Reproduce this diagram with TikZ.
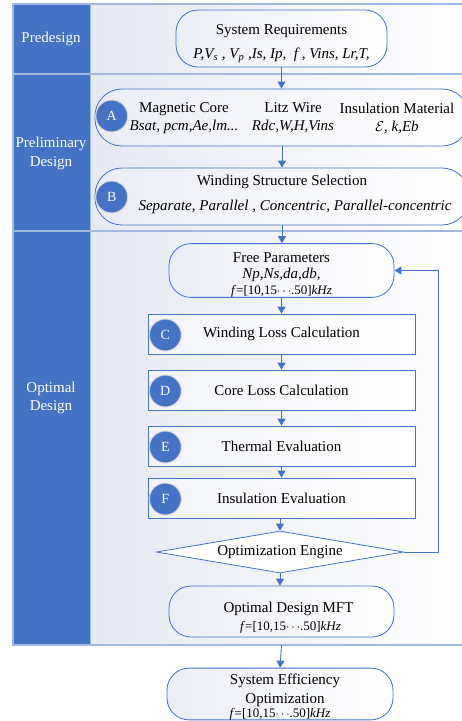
\documentclass[tikz,border=0pt]{standalone}
\usepackage{fontspec}
\setmainfont{Liberation Serif}
\usetikzlibrary{shapes.geometric,arrows.meta}

\definecolor{ppblue}{HTML}{4472C4}
\definecolor{ppline}{HTML}{A3B8E0}
\definecolor{ppback}{HTML}{E6E9F3}

\newcommand{\freqrange}{{\fontsize{13}{15}\selectfont\textit{f}=[10,15$\cdots$.50]\textit{kHz}}}

\tikzset{
  stadium/.style={draw=ppblue, line width=0.8pt, rounded corners=22pt, left color=ppback!80, right color=white,
    align=center, inner sep=0pt, font=\fontsize{15}{17}\selectfont},
  stepbox/.style={draw=ppblue, line width=0.8pt, left color=ppback!50, right color=white,
    minimum width=267pt, minimum height=40pt, font=\fontsize{15}{17}\selectfont},
  badge/.style={circle, fill=ppblue, draw=gray!30, line width=1pt, minimum size=32pt, inner sep=0pt,
    text=white, font=\fontsize{14}{16}\selectfont},
  engine/.style={diamond, draw=ppblue, line width=0.8pt, fill=white, aspect=6, inner sep=0pt,
    minimum width=247pt, minimum height=42pt, font=\fontsize{15}{17}\selectfont},
  textonly/.style={align=center, inner sep=0pt, font=\fontsize{15}{18}\selectfont},
  lane/.style={text=white, align=center, font=\fontsize{15}{18.5}\selectfont},
  flow/.style={ppblue, line width=0.9pt, -{Triangle[length=7pt,width=8pt]}}
}

\begin{document}
\begin{tikzpicture}[x=1pt,y=-1pt]

\useasboundingbox (0,0) rectangle (462,721);
\clip (0,0) rectangle (462,721);

% swim lanes
\fill [left color=ppback, right color=white] (90.7,4) rectangle (475,645);
\fill [ppblue] (13,4) rectangle (90.7,645);
\draw [ppline, line width=1.5pt] (13,4) rectangle (475,645);
\draw [ppline, line width=1.5pt] (13,74) -- (475,74);
\draw [ppline, line width=1.5pt] (13,231) -- (475,231);
\draw [ppline, line width=1.5pt] (90.7,4) -- (90.7,645);

\coordinate (framebot) at (0,645);
\coordinate (loop) at (438,552);

\node [lane] (pre) at (51,39) {Predesign};
\node [lane] (prelim) at (51,153.5) {Preliminary\\Design};
\node [lane] (opt) at (51,398) {Optimal\\Design};

% predesign
\node [stadium, minimum width=211pt, minimum height=57pt] (sysreq) at (281.5,38.5)
  {\rule{0pt}{20pt}System Requirements\\[7pt]\textit{P,V\textsubscript{s} , V\textsubscript{p} ,Is, Ip, \ f , Vins, Lr,T,}};

% preliminary design
\node [stadium, rounded corners=27pt, minimum width=374pt, minimum height=57pt] (matl) at (282,117.5) {};
\node [badge] (badgeA) at (111.7,116) {A};
\node [textonly] (core) at (184,118) {Magnetic Core\\\textit{Bsat, pcm,Ae,lm...}};
\node [textonly] (litz) at (293,118) {Litz Wire\\\textit{Rdc,W,H,Vins}};
\node [textonly] (insul) at (397,118) {Insulation Material\\$\mathcal{E}$\textit{, k,Eb}};

\node [stadium, rounded corners=27pt, minimum width=374pt, minimum height=57pt] (wind) at (282,196.5) {};
\node [badge] (badgeB) at (111.7,197) {B};
\node [textonly] (windhead) at (282,182) {Winding Structure Selection};
\node [textonly] (windlist) at (295,207) {\textit{Separate, Parallel , Concentric, Parallel-concentric}};

% optimal design
\node [stadium, minimum width=225pt, minimum height=51pt, font=\fontsize{15}{16}\selectfont] (free) at (281.5,270.5)
  {\rule{0pt}{19pt}Free Parameters\\\textit{Np,Ns,da,db,}\\\freqrange};

\node [stepbox] (wloss) at (281.5,334) {Winding Loss Calculation};
\node [stepbox] (closs) at (281.5,390) {Core Loss Calculation};
\node [stepbox] (therm) at (281.5,446) {Thermal Evaluation};
\node [stepbox] (insev) at (281.5,498) {Insulation Evaluation};
\node [badge] (badgeC) at (165.3,335) {C};
\node [badge] (badgeD) at (165.3,391) {D};
\node [badge] (badgeE) at (165.3,447) {E};
\node [badge] (badgeF) at (165.3,499) {F};

\node [engine] (engine) at (280,552) {Optimization Engine};

\node [stadium, minimum width=225pt, minimum height=51pt, font=\fontsize{15}{18}\selectfont] (mft) at (281.5,611.5)
  {\rule{0pt}{23pt}\hspace*{14pt}Optimal Design MFT\\\hspace*{18pt}\freqrange};

\node [stadium, minimum width=226pt, minimum height=50pt, font=\fontsize{15}{19}\selectfont] (syseff) at (280,694)
  {\rule{0pt}{16pt}\hspace*{10pt}System Efficiency\\\hspace*{10pt}Optimization\\[-5pt]\freqrange};

% connectors
\draw [flow] (sysreq.south) -- (sysreq.south |- matl.north);
\draw [flow] (matl.south) -- (wind.north);
\draw [flow] (wind.south) -- (wind.south |- free.north);
\draw [flow] (free.south) -- (wloss.north);
\draw [flow] (wloss.south) -- (closs.north);
\draw [flow] (closs.south) -- (therm.north);
\draw [flow] (therm.south) -- (insev.north);
\draw [flow] (insev.south -| engine.north) -- (engine.north);
\draw [flow] (engine.south) -- (engine.south |- mft.north);
\draw [flow] (engine.east) -- (loop) |- (free.east);
\draw [flow] (mft.south |- framebot) -- (syseff.north);

\end{tikzpicture}
\end{document}
